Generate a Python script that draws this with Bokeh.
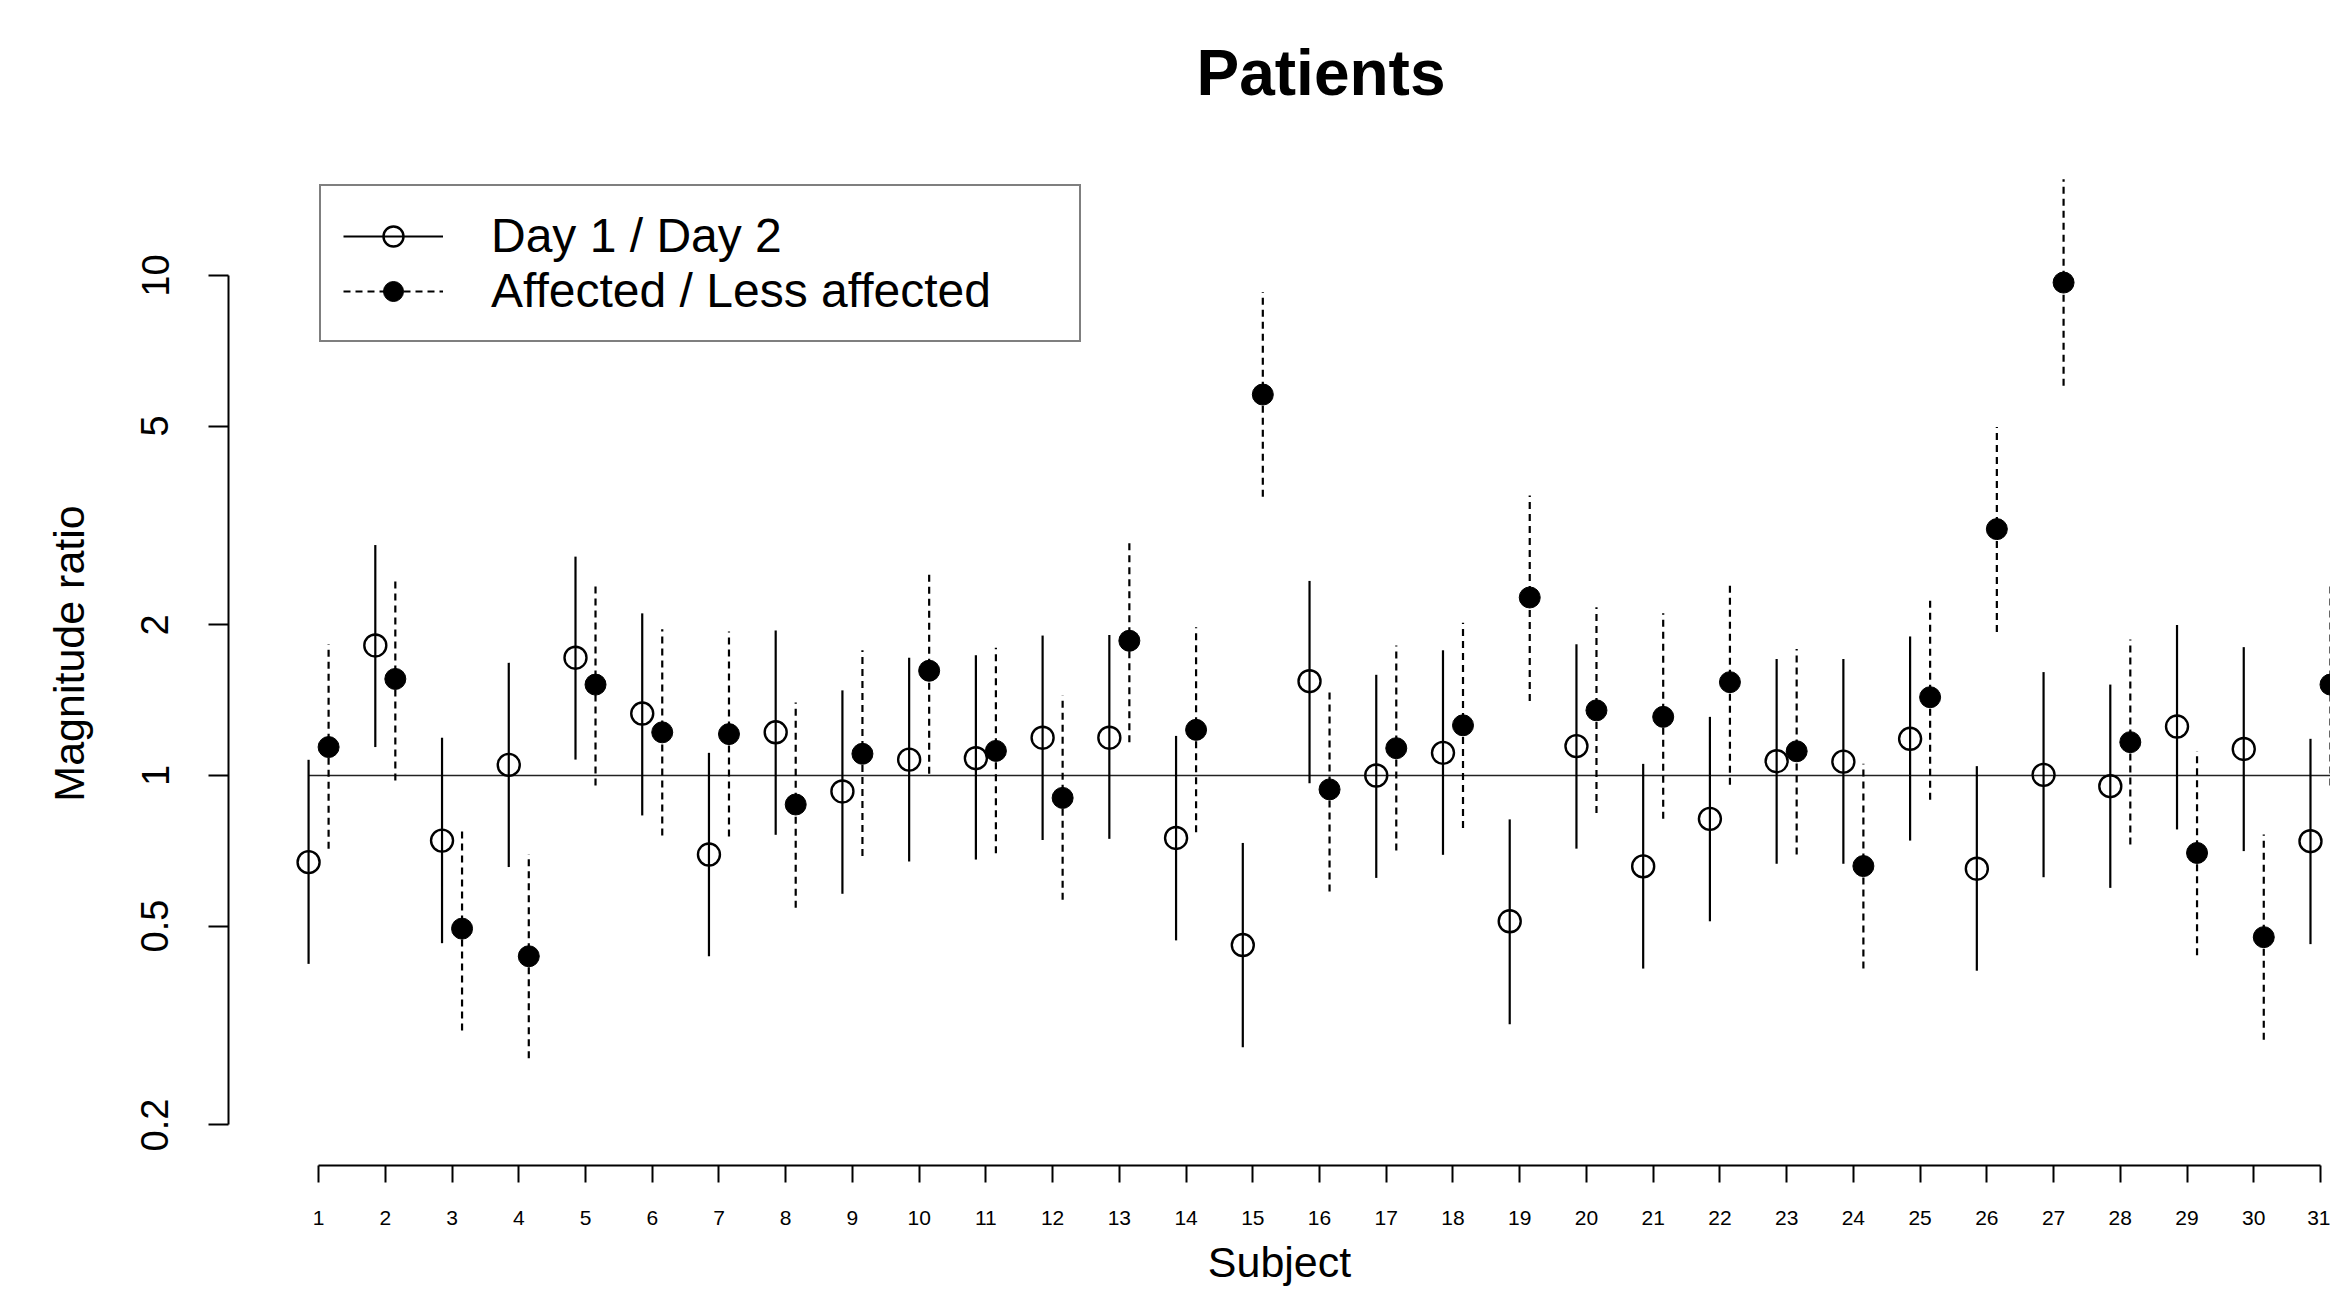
import math
from bokeh.plotting import figure
from bokeh.models import (Range1d, FixedTicker, CustomJSTickFormatter, Legend,
                          LegendItem, ColumnDataSource)
from bokeh.embed import file_html
from bokeh.resources import INLINE

# ---------------- data ----------------
subjects = list(range(1, 32))
x_tick_labels = [str(s) for s in subjects]
y_ticks = [0.2, 0.5, 1, 2, 5, 10]

# Day 1 / Day 2 ratio: estimate, lower and upper limits
day_ratio = [0.671, 1.82, 0.741, 1.05, 1.72, 1.33, 0.695, 1.22, 0.929, 1.076,
             1.083, 1.19, 1.19, 0.75, 0.458, 1.544, 1.0, 1.11, 0.511, 1.145,
             0.658, 0.819, 1.068, 1.066, 1.184, 0.651, 1.003, 0.952, 1.253, 1.13,
             0.739]
day_lower = [0.42, 1.14, 0.462, 0.656, 1.076, 0.832, 0.435, 0.761, 0.58, 0.673,
             0.679, 0.743, 0.747, 0.468, 0.286, 0.965, 0.624, 0.694, 0.318, 0.714,
             0.411, 0.511, 0.666, 0.666, 0.741, 0.407, 0.626, 0.596, 0.78, 0.706,
             0.46]
day_upper = [1.075, 2.89, 1.19, 1.68, 2.74, 2.11, 1.11, 1.95, 1.48, 1.72,
             1.74, 1.905, 1.91, 1.20, 0.733, 2.45, 1.59, 1.78, 0.817, 1.83,
             1.055, 1.31, 1.71, 1.71, 1.897, 1.044, 1.61, 1.52, 2.0, 1.806,
             1.184]

# Affected / Less affected ratio
aff_ratio = [1.14, 1.56, 0.494, 0.435, 1.52, 1.22, 1.21, 0.875, 1.105, 1.62,
             1.12, 0.902, 1.86, 1.234, 5.78, 0.938, 1.134, 1.26, 2.27, 1.35,
             1.31, 1.537, 1.118, 0.659, 1.434, 3.11, 9.68, 1.166, 0.70, 0.475,
             1.52]
aff_lower = [0.714, 0.977, 0.309, 0.272, 0.955, 0.759, 0.755, 0.544, 0.69, 1.008,
             0.699, 0.564, 1.166, 0.77, 3.61, 0.586, 0.708, 0.785, 1.41, 0.841,
             0.819, 0.958, 0.695, 0.411, 0.894, 1.936, 6.02, 0.728, 0.437, 0.296,
             0.955]
aff_upper = [1.83, 2.49, 0.791, 0.697, 2.42, 1.96, 1.94, 1.40, 1.78, 2.57,
             1.80, 1.445, 2.96, 1.98, 9.27, 1.50, 1.82, 2.02, 3.63, 2.17,
             2.11, 2.44, 1.79, 1.055, 2.28, 4.98, 15.57, 1.87, 1.12, 0.762,
             2.42]

reference_value = 1.0

# ---------------- layout / style ----------------
DODGE = 0.15
FONT = "Liberation Sans"

day_src = ColumnDataSource(dict(x=[s - DODGE for s in subjects], y=day_ratio,
                                lo=day_lower, hi=day_upper))
aff_src = ColumnDataSource(dict(x=[s + DODGE for s in subjects], y=aff_ratio,
                                lo=aff_lower, hi=aff_upper))

p = figure(width=2330, height=1294, y_axis_type="log",
           x_range=Range1d(-0.35, 31.15),
           y_range=Range1d(10 ** -0.78, 10 ** 1.268),
           title="Patients",
           output_backend="svg", toolbar_location=None,
           min_border_left=228, min_border_right=0,
           min_border_top=141, min_border_bottom=129)

p.outline_line_color = None
p.grid.visible = False
p.background_fill_color = "white"
p.border_fill_color = "white"

# title
p.title.text_font = FONT
p.title.text_font_size = "64px"
p.title.text_font_style = "bold"
p.title.align = "left"
p.title.offset = 968
p.title.standoff = 66
p.title.text_color = "black"

# reference line at 1
p.segment(x0=[subjects[0] - DODGE], x1=[subjects[-1] + 1.0],
          y0=[reference_value], y1=[reference_value],
          line_color="#222222", line_width=1.6)

# whiskers
day_seg = p.segment(x0="x", x1="x", y0="lo", y1="hi", source=day_src,
                    line_color="black", line_width=2.2)
aff_seg = p.segment(x0="x", x1="x", y0="lo", y1="hi", source=aff_src,
                    line_color="black", line_width=2.2, line_dash="7 5")

# points
day_pts = p.scatter(x="x", y="y", source=day_src, marker="circle", size=22,
                    fill_color=None, line_color="black", line_width=2.4)
aff_pts = p.scatter(x="x", y="y", source=aff_src, marker="circle", size=21,
                    fill_color="black", line_color="black", line_width=1)

# axes
xa = p.xaxis[0]
xa.ticker = FixedTicker(ticks=subjects)
xa.major_label_overrides = {s: lab for s, lab in zip(subjects, x_tick_labels)}
xa.bounds = (subjects[0], subjects[-1])
xa.axis_line_width = 2
xa.major_tick_line_width = 2
xa.major_tick_in = 0
xa.major_tick_out = 17
xa.minor_tick_out = 0
xa.minor_tick_in = 0
xa.major_label_text_font = FONT
xa.major_label_text_font_size = "21px"
xa.major_label_text_color = "black"
xa.major_label_standoff = 28
xa.axis_label = "Subject"
xa.axis_label_text_font = FONT
xa.axis_label_text_font_size = "43px"
xa.axis_label_text_font_style = "normal"
xa.axis_label_text_color = "black"
xa.axis_label_standoff = 10

ya = p.yaxis[0]
ya.ticker = FixedTicker(ticks=y_ticks)
ya.formatter = CustomJSTickFormatter(code="return String(tick);")
ya.bounds = (y_ticks[0], y_ticks[-1])
ya.axis_line_width = 2
ya.major_tick_line_width = 2
ya.major_tick_in = 0
ya.major_tick_out = 20
ya.minor_tick_out = 0
ya.minor_tick_in = 0
ya.major_label_orientation = "vertical"
ya.major_label_text_font = FONT
ya.major_label_text_font_size = "38px"
ya.major_label_text_color = "black"
ya.major_label_standoff = 40
ya.axis_label = "Magnitude ratio"
ya.axis_label_text_font = FONT
ya.axis_label_text_font_size = "43px"
ya.axis_label_text_font_style = "normal"
ya.axis_label_text_color = "black"
ya.axis_label_standoff = 46

# legend
legend = Legend(items=[
    LegendItem(label="Day 1 / Day 2", renderers=[day_seg, day_pts]),
    LegendItem(label="Affected / Less affected", renderers=[aff_seg, aff_pts]),
], location=(91, 823))
legend.margin = 0
legend.padding = 22
legend.spacing = -8
legend.glyph_width = 100
legend.glyph_height = 50
legend.label_height = 50
legend.label_width = 566
legend.label_standoff = 48
legend.label_text_font = FONT
legend.label_text_font_size = "48px"
legend.label_text_color = "black"
legend.border_line_color = "black"
legend.border_line_width = 2
legend.background_fill_color = "white"
legend.background_fill_alpha = 1.0
p.add_layout(legend)

open("out.html", "w").write(file_html(p, INLINE))
